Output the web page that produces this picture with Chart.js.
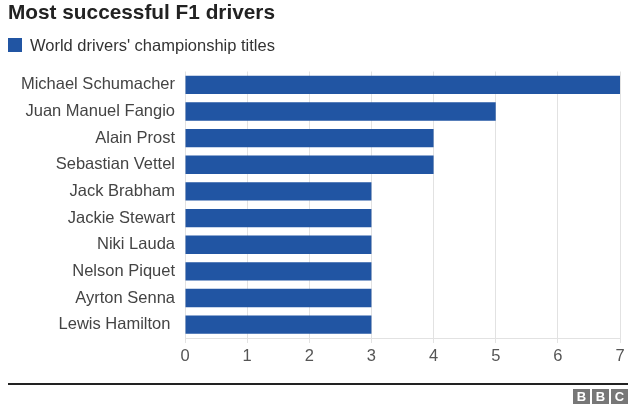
<!DOCTYPE html>
<html>
<head>
<meta charset="utf-8">
<script src="https://cdn.jsdelivr.net/npm/chart.js@4"></script>
<style>
    body { margin: 0; background: #fff; font-family: "Liberation Sans", Arial, sans-serif; }
    #wrap { position: relative; width: 640px; height: 412px; overflow: hidden; }
    #titulo { position: absolute; left: 8px; top: 1.5px; font-size: 20.8px; line-height: 20.8px; font-weight: bold; color: #222; }
    #legenda { position: absolute; left: 8px; top: 36.5px; font-size: 16.5px; line-height: 16.5px; color: #333; }
    #legenda span { position: absolute; left: 0; top: 1.5px; width: 14px; height: 14px; background: #2155a3; }
    #legenda b { position: absolute; left: 22px; top: 0; white-space: nowrap; font-weight: normal; }
    #grafico { position: absolute; left: 0; top: 0; }
    #linha { position: absolute; left: 8px; top: 383px; width: 620px; height: 2px; background: #222; }
    #bbc { position: absolute; left: 573px; top: 389px; display: flex; gap: 2px; }
    #bbc div { width: 17px; height: 15px; background: #777; color: #fff; font: bold 13px/15px "Liberation Sans", Arial, sans-serif; text-align: center; }
</style>
</head>
<body>
<div id="wrap">
    <canvas id="grafico" width="640" height="412"></canvas>
    <div id="titulo">Most successful F1 drivers</div>
    <div id="legenda"><span></span><b>World drivers' championship titles</b></div>
    <div id="linha"></div>
    <div id="bbc"><div>B</div><div>B</div><div>C</div></div>
</div>
<script>
const pilotos = ['Michael Schumacher', 'Juan Manuel Fangio', 'Alain Prost', 'Sebastian Vettel', 'Jack Brabham',
    'Jackie Stewart', 'Niki Lauda', 'Nelson Piquet', 'Ayrton Senna', 'Lewis Hamilton '];
const titulos = [7, 5, 4, 4, 3, 3, 3, 3, 3, 3];
const ticksX = [0, 1, 2, 3, 4, 5, 6, 7];

const ctx = document.getElementById('grafico').getContext('2d');
Chart.defaults.font.family = '"Liberation Sans", Arial, sans-serif';

new Chart(ctx, {
    type: 'bar',
    data: {
        labels: pilotos,
        datasets: [{
            label: "World drivers' championship titles",
            data: titulos,
            backgroundColor: '#2155a3',
            barPercentage: 0.69,
            categoryPercentage: 1
        }]
    },
    options: {
        indexAxis: 'y',
        responsive: false,
        animation: false,
        layout: { padding: { top: 71.5, right: 20, bottom: 0, left: 0 } },
        plugins: {
            legend: { display: false },
            tooltip: { enabled: false }
        },
        scales: {
            x: {
                min: 0,
                max: 7,
                afterBuildTicks: (scale) => { scale.ticks = ticksX.map(v => ({ value: v })); },
                afterFit: (scale) => { scale.height = 74; },
                grid: { color: '#e2e2e2', tickLength: 5 },
                border: { color: '#e2e2e2' },
                ticks: { color: '#555', padding: 4, font: { size: 16.5 } }
            },
            y: {
                afterFit: (scale) => { scale.width = 185; },
                grid: { display: false, drawTicks: false },
                border: { display: false },
                ticks: { color: '#444', padding: 10, autoSkip: false, font: { size: 16.5 } }
            }
        }
    }
});
</script>
</body>
</html>
